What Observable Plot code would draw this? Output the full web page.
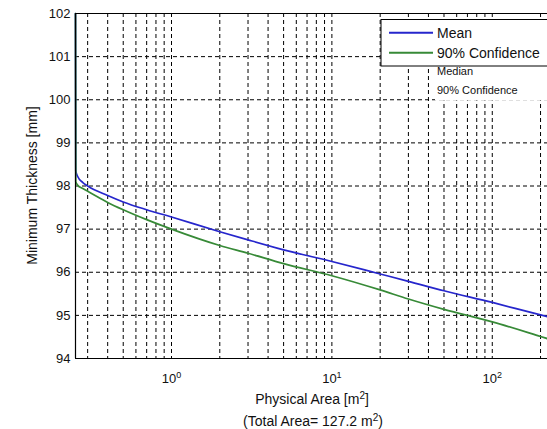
<!DOCTYPE html>
<html>
<head>
<meta charset="utf-8">
<script src="https://cdn.jsdelivr.net/npm/d3@7"></script>
<script src="https://cdn.jsdelivr.net/npm/@observablehq/plot@0.6"></script>
<style>
  html, body { margin: 0; padding: 0; background: white; }
  #chart { width: 547px; height: 429px; overflow: hidden; }
</style>
</head>
<body>
<div id="chart"></div>
<script>
// ---- data ----
const area = [0.252, 0.253, 0.26, 0.28, 0.3, 0.4, 0.5, 0.7, 1, 2, 3, 5, 10, 20, 30, 50, 100, 200, 221];
const meanThickness = [102, 98.35, 98.22, 98.08, 98.0, 97.78, 97.63, 97.45, 97.28, 96.94, 96.75, 96.52, 96.25, 95.96, 95.79, 95.57, 95.3, 95.01, 94.97];
const confThickness = [102, 98.1, 98.02, 97.94, 97.88, 97.62, 97.45, 97.22, 97.0, 96.62, 96.44, 96.2, 95.92, 95.59, 95.38, 95.14, 94.85, 94.51, 94.46];
const xDomain = [0.252, 221];
const yDomain = [94, 102];
const xTicks = [1, 10, 100];
const yTicks = [94, 95, 96, 97, 98, 99, 100, 101, 102];
const xGridLines = [0.3, 0.4, 0.5, 0.6, 0.7, 0.8, 0.9, 1, 2, 3, 4, 5, 6, 7, 8, 9, 10, 20, 30, 40, 50, 60, 70, 80, 90, 100, 200];
const yGridLines = [95, 96, 97, 98, 99, 100, 101];
const seriesNames = ["Mean", "90% Confidence"];
const extraLegendNames = ["Median", "90% Confidence"];
const colors = ["#2626cc", "#378a37"];

const meanData = area.map((a, i) => ({area: a, thickness: meanThickness[i]}));
const confData = area.map((a, i) => ({area: a, thickness: confThickness[i]}));

const font = "'Liberation Sans', Arial, Helvetica, sans-serif";

const chart = Plot.plot({
  width: 547,
  height: 429,
  marginLeft: 75,
  marginRight: 0,
  marginTop: 13,
  marginBottom: 71,
  style: {fontFamily: font, fontSize: "13px", color: "#111", background: "white"},
  x: {type: "log", domain: xDomain},
  y: {domain: yDomain},
  marks: [
    Plot.ruleX(xGridLines, {stroke: "#000", strokeWidth: 1, strokeDasharray: "4,3"}),
    Plot.ruleY(yGridLines, {stroke: "#000", strokeWidth: 1, strokeDasharray: "4,3"}),
    Plot.line(meanData, {x: "area", y: "thickness", stroke: colors[0], strokeWidth: 1.7, curve: "monotone-x"}),
    Plot.line(confData, {x: "area", y: "thickness", stroke: colors[1], strokeWidth: 1.7, curve: "monotone-x"}),
    Plot.ruleX([xDomain[0]], {stroke: "#000", strokeWidth: 1.2}),
    Plot.ruleY(yDomain, {stroke: "#000", strokeWidth: 1.2}),
    Plot.axisY({ticks: yTicks, tickSize: 0, tickPadding: 5, label: null, fontSize: 13}),
    Plot.axisX({ticks: xTicks, tickSize: 0, tickPadding: 15, label: null, fontSize: 13,
      tickFormat: d => String(Math.round(Math.log10(d)))})
  ]
});
document.getElementById("chart").appendChild(chart);

const svg = d3.select(chart);

// superscript tick labels 10^n
svg.selectAll('g[aria-label="x-axis tick label"] text').each(function() {
  const t = d3.select(this);
  const exp = t.text();
  t.text(null);
  t.append("tspan").text("10");
  t.append("tspan").attr("dy", "-0.5em").attr("font-size", "9px").text(exp);
});

// axis labels
const xLab = svg.append("text").attr("x", 312).attr("y", 404).attr("text-anchor", "middle")
  .attr("font-family", font).attr("font-size", "14px").attr("fill", "#111");
xLab.append("tspan").text("Physical Area [m");
xLab.append("tspan").attr("dy", "-5").attr("font-size", "10px").text("2");
xLab.append("tspan").attr("dy", "5").text("]");

const xLab2 = svg.append("text").attr("x", 313).attr("y", 426).attr("text-anchor", "middle")
  .attr("font-family", font).attr("font-size", "14px").attr("fill", "#111");
xLab2.append("tspan").text("(Total Area= 127.2 m");
xLab2.append("tspan").attr("dy", "-5").attr("font-size", "10px").text("2");
xLab2.append("tspan").attr("dy", "5").text(")");

svg.append("text")
  .attr("transform", "translate(37,185.5) rotate(-90)")
  .attr("text-anchor", "middle")
  .attr("font-family", font).attr("font-size", "14px").attr("fill", "#111")
  .text("Minimum Thickness [mm]");

// legend
const lg = svg.append("g").attr("font-family", font).attr("fill", "#111").attr("text-anchor", "start");
lg.append("rect").attr("x", 435).attr("y", 66).attr("width", 120).attr("height", 34.5).attr("fill", "white");
lg.append("rect").attr("x", 381).attr("y", 19.5).attr("width", 180).attr("height", 46.5)
  .attr("fill", "white").attr("stroke", "#000").attr("stroke-width", 1);
seriesNames.forEach((name, i) => {
  const y = 32.7 + i * 20;
  lg.append("line").attr("x1", 389).attr("x2", 433).attr("y1", y).attr("y2", y)
    .attr("stroke", colors[i]).attr("stroke-width", 2);
  lg.append("text").attr("x", 437).attr("y", y + 5).attr("font-size", "14px")
    .attr("text-anchor", "start").text(name);
});
extraLegendNames.forEach((name, i) => {
  lg.append("text").attr("x", 437).attr("y", 74.5 + i * 19).attr("font-size", "11px")
    .attr("text-anchor", "start").text(name);
});
</script>
</body>
</html>
